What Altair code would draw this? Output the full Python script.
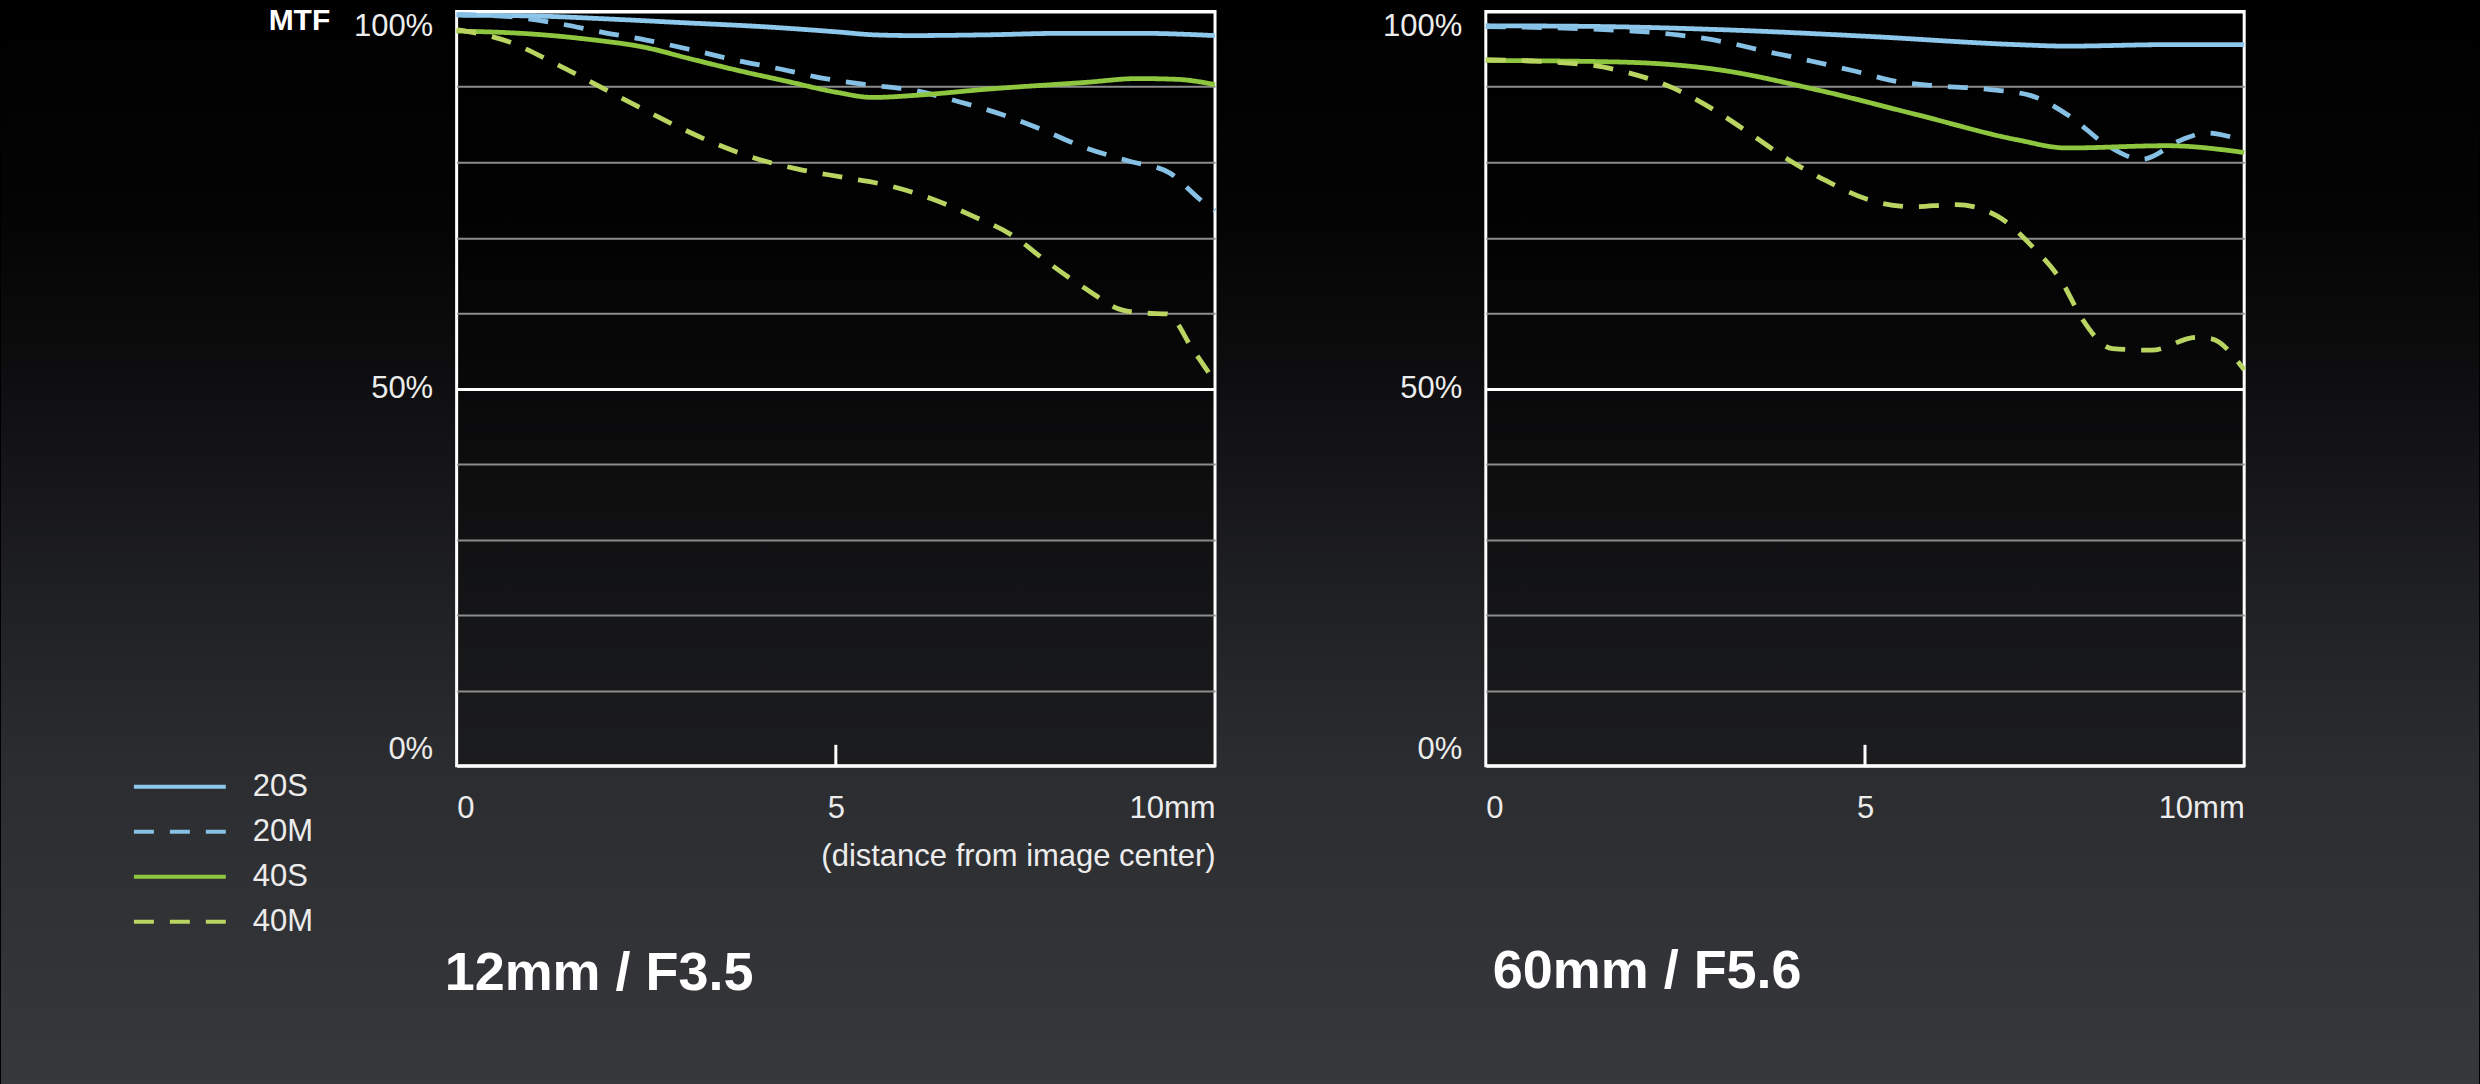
import altair as alt
import pandas as pd

# ---------------- data ----------------
SERIES = ["20S", "20M", "40S", "40M"]
COLORS = ["#8dc8ec", "#86c0e4", "#8fc640", "#b9d460"]
DASHES = [[1, 0], [20, 16], [1, 0], [20, 16]]

Y_VALUES = [0, 10, 20, 30, 40, 50, 60, 70, 80, 90, 100]
X_VALUES = [0, 5, 10]
X_TICKS = [5]

# 12mm / F3.5
w_20S_x = [0, 1, 2, 3, 4, 5, 5.5, 6, 7, 8, 9, 10]
w_20S_y = [99.5, 99.4, 99.0, 98.5, 98.0, 97.3, 96.9, 96.8, 96.9, 97.1, 97.1, 96.8]
w_20M_x = [0, 0.7, 1.34, 1.94, 2.5, 3.1, 3.7, 4.3, 4.8, 5.4, 6.0, 6.6, 7.2, 7.7, 8.3, 8.85, 9.4, 9.8, 10]
w_20M_y = [99.6, 99.3, 98.4, 97.2, 96.2, 94.9, 93.5, 92.3, 91.2, 90.3, 89.6, 88.1, 86.3, 84.4, 81.9, 80.2, 78.6, 75.1, 73.6]
w_40S_x = [0, 1, 1.74, 2.5, 3.05, 3.7, 4.37, 5, 5.49, 6.08, 7.0, 8.3, 8.98, 9.5, 10]
w_40S_y = [97.4, 97.0, 96.3, 95.2, 93.8, 92.2, 90.7, 89.3, 88.6, 88.9, 89.7, 90.6, 91.1, 91.0, 90.3]
w_40M_x = [0, 0.68, 1.28, 1.8, 2.33, 2.86, 3.38, 3.98, 4.5, 5.1, 5.7, 6.28, 6.8, 7.33, 7.8, 8.3, 8.78, 9.1, 9.37, 9.7, 10]
w_40M_y = [97.6, 96.0, 93.2, 90.5, 87.7, 85.0, 82.6, 80.4, 79.1, 78.0, 76.9, 75.1, 72.9, 70.3, 66.7, 63.2, 60.4, 60.0, 59.9, 55.3, 50.9]

# 60mm / F5.6
t_20S_x = [0, 1.5, 3.05, 5.03, 7.0, 7.66, 9, 10]
t_20S_y = [98.1, 98.0, 97.6, 96.7, 95.6, 95.4, 95.6, 95.6]
t_20M_x = [0, 1.28, 1.94, 2.53, 3.12, 3.7, 4.3, 4.86, 5.42, 6.0, 6.6, 7.2, 7.7, 8.2, 8.65, 9.18, 9.5, 10]
t_20M_y = [98.0, 97.7, 97.4, 96.9, 96.0, 94.7, 93.4, 92.1, 90.7, 90.1, 89.7, 88.8, 86.1, 82.2, 80.4, 83.0, 83.9, 82.8]
t_40S_x = [0, 1.74, 3.05, 4.37, 5.69, 7.0, 7.66, 8.98, 10]
t_40S_y = [93.5, 93.3, 92.3, 89.6, 86.3, 83.0, 81.9, 82.2, 81.3]
t_40M_x = [0, 1.28, 1.87, 2.46, 3.0, 3.5, 3.98, 4.5, 5.03, 5.62, 6.2, 6.74, 7.2, 7.6, 7.86, 8.26, 8.78, 9.37, 9.57, 10]
t_40M_y = [93.6, 93.0, 91.9, 89.9, 87.0, 83.7, 80.4, 77.5, 75.1, 74.1, 74.4, 72.9, 68.9, 64.1, 59.3, 55.3, 55.1, 56.8, 56.6, 52.5]

PANEL_TITLES = ["12mm / F3.5", "60mm / F5.6"]
X_TITLE = "(distance from image center)"
Y_TITLE = "MTF"


def build(pairs):
    rows = []
    for name, (xs, ys) in zip(SERIES, pairs):
        for x, y in zip(xs, ys):
            rows.append({"series": name, "x": x, "mtf": y})
    return pd.DataFrame(rows)


df_w = build([(w_20S_x, w_20S_y), (w_20M_x, w_20M_y), (w_40S_x, w_40S_y), (w_40M_x, w_40M_y)])
df_t = build([(t_20S_x, t_20S_y), (t_20M_x, t_20M_y), (t_40S_x, t_40S_y), (t_40M_x, t_40M_y)])

# ---------------- styling ----------------
FONT = "Liberation Sans"
W, H = 759, 755
LBL = "#ececec"

legend = alt.Legend(
    title=None, orient="none", legendX=154, legendY=751,
    symbolType="M-2,0H2", symbolSize=2116, symbolStrokeWidth=4,
    labelFontSize=31, labelColor=LBL, labelFont=FONT, labelOffset=48,
    rowPadding=5, padding=0,
)

grid_color = {"condition": {"test": "datum.value % 50 == 0", "value": "#ffffff"}, "value": "#8c8c8c"}
grid_width = {"condition": {"test": "datum.value % 50 == 0", "value": 3}, "value": 2}


def panel(df, title, dx, offset, show_titles):
    y_axis_kw = dict(
        values=Y_VALUES,
        labelExpr="datum.value % 50 == 0 ? datum.value + '%' : ''",
        grid=True, gridColor=grid_color, gridWidth=grid_width,
        ticks=False, domain=False, labelFlush=True, labelPadding=24,
        labelFontSize=31, labelColor=LBL, labelFont=FONT,
    )
    x_axis_kw = dict(
        values=X_VALUES, format="d",
        labelExpr="datum.value == 10 ? '10mm' : datum.label",
        grid=False, ticks=False, domain=False, labelFlush=True, labelPadding=28,
        labelFontSize=31, labelColor=LBL, labelFont=FONT,
    )
    if show_titles:
        y_axis_kw.update(title=Y_TITLE, titleAngle=0, titleX=-127, titleY=9, titleAlign="right",
                         titleBaseline="middle", titleFontWeight="bold", titleFontSize=30,
                         titleColor="#ffffff", titleFont=FONT)
        x_axis_kw.update(title=X_TITLE, titleX=W, titleY=91, titleAlign="right",
                         titleBaseline="middle", titleFontWeight="normal", titleFontSize=31,
                         titleColor=LBL, titleFont=FONT)
    else:
        y_axis_kw.update(title="")
        x_axis_kw.update(title="")

    xs = alt.Scale(domain=[0, 10], nice=False)
    ys = alt.Scale(domain=[0, 100], nice=False)

    lines = alt.Chart(df).mark_line(strokeWidth=4.8, interpolate="monotone", strokeCap="butt").encode(
        x=alt.X("x:Q", scale=xs, axis=alt.Axis(**x_axis_kw)),
        y=alt.Y("mtf:Q", scale=ys, axis=alt.Axis(**y_axis_kw)),
        color=alt.Color("series:N", scale=alt.Scale(domain=SERIES, range=COLORS), legend=legend),
        strokeDash=alt.StrokeDash("series:N", scale=alt.Scale(domain=SERIES, range=DASHES), legend=legend),
    )
    tick = alt.Chart(pd.DataFrame({"x": X_TICKS})).mark_rule(color="#ffffff", strokeWidth=3).encode(
        x=alt.X("x:Q", scale=xs),
        y=alt.value(H),
        y2=alt.value(H - 21),
    )
    return alt.layer(lines, tick).properties(
        width=W, height=H,
        title=alt.TitleParams(title, orient="bottom", anchor="start", frame="group", offset=offset,
                              baseline="alphabetic", fontSize=54, font=FONT, fontWeight="bold",
                              color="#ffffff", dx=dx),
        view=alt.ViewBackground(fill="#000000", fillOpacity=0.35, stroke="#ffffff", strokeWidth=3),
    )


bg = alt.Chart(pd.DataFrame({"bg": [0]})).mark_rect(
    color=alt.LinearGradient(
        gradient="linear",
        stops=[
            alt.GradientStop(color="#000000", offset=0),
            alt.GradientStop(color="#040404", offset=0.2),
            alt.GradientStop(color="#0e0e10", offset=0.35),
            alt.GradientStop(color="#1f2022", offset=0.55),
            alt.GradientStop(color="#2b2c2f", offset=0.7),
            alt.GradientStop(color="#37383b", offset=1),
        ],
        x1=0, x2=0, y1=0, y2=1,
    )
).encode(
    x=alt.value(0), x2=alt.value(2480), y=alt.value(-10), y2=alt.value(1074)
).properties(width=185, height=H, view=alt.ViewBackground(stroke="transparent", fill="transparent"))

chart = alt.hconcat(
    bg,
    panel(df_w, PANEL_TITLES[0], -12, 118, True),
    panel(df_t, PANEL_TITLES[1], 7, 164, False),
    spacing=271, bounds="flush",
).properties(padding=0, background="#000000").configure(font=FONT)

chart.save("out.html", embed_options={"renderer": "svg", "actions": False})
